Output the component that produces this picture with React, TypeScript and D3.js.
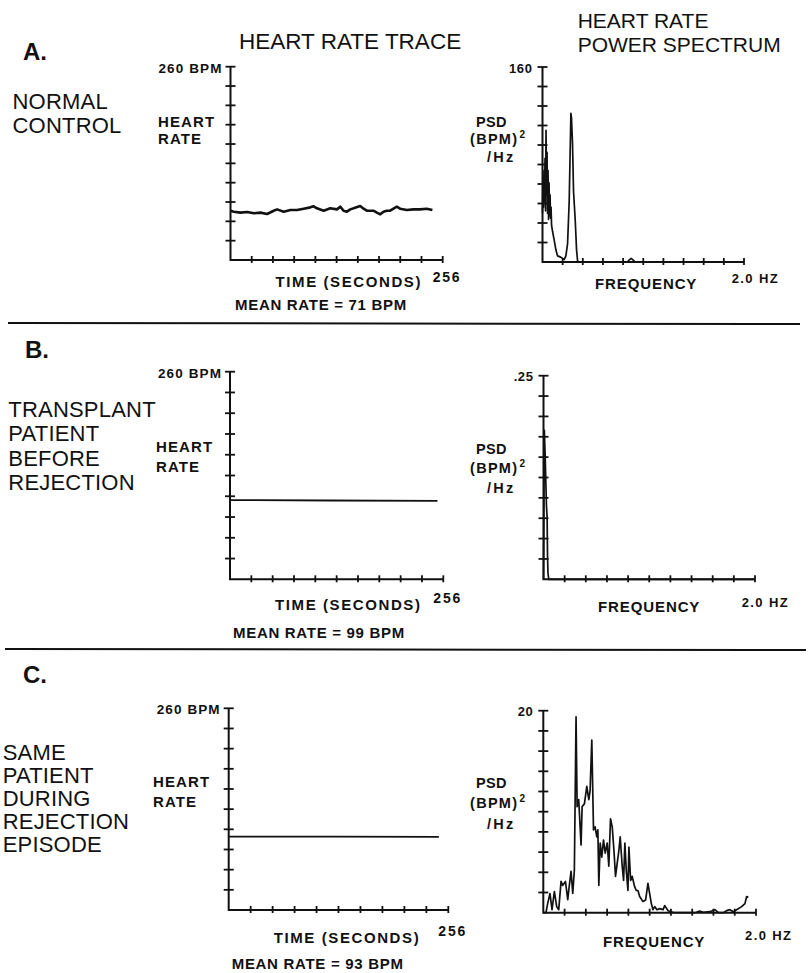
import React, { useEffect, useRef } from "react";
import * as d3 from "d3";

// ---- heart rate traces (time in seconds, BPM) ----
const traceATime = [0, 4, 12, 20.1, 28.1, 36.1, 44.1, 52.2, 56.2, 64.2, 72.2, 80.3, 88.3, 96.3, 100.3, 104.3, 112.4, 120.4, 128.4, 132.4, 136.4, 140.4, 144.5, 148.5, 156.5, 160.5, 164.5, 172.5, 176.6, 180.6, 184.6, 188.6, 192.6, 200.6, 204.6, 212.7, 220.7, 228.7, 236.7, 243.6];
const traceABpm = [66.3, 65.0, 63.7, 64.6, 62.8, 63.7, 61.9, 66.3, 68.1, 65.0, 67.2, 67.2, 69.0, 70.8, 72.2, 69.5, 66.3, 69.5, 68.1, 71.7, 66.3, 65.0, 68.1, 69.5, 72.6, 69.0, 66.3, 66.3, 63.7, 61.4, 65.0, 66.3, 66.3, 71.7, 69.0, 67.2, 68.1, 68.1, 69.0, 67.2];

const traceBTime = [0, 120, 249];
const traceBBpm = [99.2, 98.7, 98.2];

const traceCTime = [0, 120, 245];
const traceCBpm = [94.5, 94.5, 94.3];

// ---- power spectra (Hz, (BPM)^2/Hz) ----
const specAFreq = [0, 0.005, 0.01, 0.015, 0.02, 0.025, 0.03, 0.035, 0.04, 0.045, 0.05, 0.055, 0.06, 0.065, 0.07, 0.075, 0.08, 0.085, 0.09, 0.1, 0.116, 0.133, 0.149, 0.18, 0.215, 0.232, 0.249, 0.265, 0.282, 0.288, 0.298, 0.308, 0.325, 0.338, 0.348, 0.36, 0.6, 0.84, 0.865, 0.88, 0.895, 0.92, 1.2, 1.6, 1.98];
const specAPsd = [40, 70, 45, 75, 50, 85, 42, 108, 55, 90, 40, 75, 35, 65, 38, 55, 36, 45, 30, 25, 18, 10, 5, 4, 2, 5, 15, 50, 122, 118, 97, 58, 34, 10, 1, 0, 0, 0, 2, 3, 2, 0, 0, 0, 0];

const specBFreq = [0, 0.008, 0.016, 0.022, 0.028, 0.034, 0.038, 0.042, 0.05, 1.0, 2.0];
const specBPsd = [0, 0.183, 0.15, 0.12, 0.09, 0.077, 0.03, 0.008, 0, 0, 0];

const specCFreq = [0, 0.025, 0.041, 0.063, 0.082, 0.104, 0.126, 0.145, 0.167, 0.182, 0.208, 0.23, 0.239, 0.261, 0.277, 0.292, 0.308, 0.318, 0.333, 0.355, 0.365, 0.387, 0.409, 0.428, 0.44, 0.456, 0.472, 0.487, 0.503, 0.513, 0.522, 0.535, 0.55, 0.566, 0.582, 0.601, 0.616, 0.632, 0.648, 0.664, 0.679, 0.695, 0.711, 0.723, 0.742, 0.755, 0.767, 0.78, 0.796, 0.805, 0.821, 0.836, 0.858, 0.874, 0.89, 0.906, 0.937, 0.962, 0.984, 1.0, 1.016, 1.031, 1.047, 1.069, 1.094, 1.126, 1.142, 1.173, 1.22, 1.346, 1.44, 1.47, 1.503, 1.566, 1.613, 1.645, 1.692, 1.723, 1.755, 1.786, 1.818, 1.865, 1.896, 1.912, 1.928];
const specCPsd = [0, 0, 0.9, 1.9, 0.3, 2.1, 0.6, 0.3, 3.1, 2.7, 3.1, 1.3, 2.2, 4.1, 1.9, 4.2, 19.4, 10.5, 11.2, 6.7, 10.5, 10.8, 12.5, 11.2, 12.1, 17.1, 8.2, 8.5, 7.5, 8.2, 2.7, 6.9, 5.5, 7.2, 5.9, 6.9, 4.6, 9.3, 8.5, 6.2, 3.6, 4.9, 6.2, 7.5, 4.6, 3.2, 6.9, 4.2, 2.2, 6.5, 3.2, 3.6, 2.6, 2.2, 2.2, 1.6, 1.1, 1.25, 2.9, 1.9, 0.9, 0.3, 0.6, 0.3, 0.4, 0.3, 0.7, 0.2, 0.03, 0, 0.03, 0.17, 0.03, 0.1, 0.3, 0.03, 0, 0.2, 0.3, 0.1, 0.3, 0.6, 0.9, 1.6, 1.5];

// ---- tick labels / text ----
const hrMaxLabel = "260 BPM";
const hrMax = 260;
const timeMax = 256;
const psdMaxLabels = ["160", ".25", "20"];
const psdMax = [160, 0.25, 20];
const freqMax = 2.0;
const meanRates = ["MEAN RATE = 71 BPM", "MEAN RATE = 99 BPM", "MEAN RATE = 93 BPM"];
const rowLabels = [
  ["NORMAL", "CONTROL"],
  ["TRANSPLANT", "PATIENT", "BEFORE", "REJECTION"],
  ["SAME", "PATIENT", "DURING", "REJECTION", "EPISODE"],
];
const panelLetters = ["A.", "B.", "C."];

const FONT = "'Liberation Sans', Arial, Helvetica, sans-serif";

const rows = [
  {
    letter: [23, 60], row: [12.5, 109.3, 23.4],
    hr: { x0: 230.5, x1: 442.7, y0: 260, y1: 66.7, heart: [158, 126.7, 17.3], time: 287.3, end: 281.7, mean: [235, 310] },
    ps: { x0: 542.5, x1: 744, y0: 262, y1: 67, psd: 127.3, psdStep: 17, freq: [595, 289.3], hz: [731.7, 283.3] },
    trace: [traceATime, traceABpm, 2.6], spec: [specAFreq, specAPsd],
  },
  {
    letter: [25, 358.3], row: [8.3, 416.7, 24.4],
    hr: { x0: 230, x1: 443.3, y0: 579.3, y1: 371.7, heart: [156, 451.7, 20], time: 610, end: 602.7, mean: [233, 638] },
    ps: { x0: 543.5, x1: 755, y0: 579.3, y1: 375.7, psd: 454, psdStep: 19, freq: [598, 611.7], hz: [741.7, 606.7] },
    trace: [traceBTime, traceBBpm, 1.8], spec: [specBFreq, specBPsd],
  },
  {
    letter: [23, 683.3], row: [2.7, 760, 23.1],
    hr: { x0: 228.7, x1: 448.3, y0: 910, y1: 708.3, heart: [153, 786.7, 20.6], time: 942.7, end: 936, mean: [231.7, 968.5] },
    ps: { x0: 543.3, x1: 756, y0: 912.7, y1: 710.7, psd: 788, psdStep: 20, freq: [603, 946.7], hz: [745, 940] },
    trace: [traceCTime, traceCBpm, 1.8], spec: [specCFreq, specCPsd],
  },
];

const App: React.FC = () => {
  const svgRef = useRef<SVGSVGElement | null>(null);

  useEffect(() => {
    const svg = d3.select(svgRef.current);
    svg.selectAll("*").remove();
    svg
      .attr("width", 808)
      .attr("height", 973)
      .style("position", "absolute")
      .style("left", 0)
      .style("top", 0)
      .style("background", "#fff")
      .style("font-family", FONT);

    const text = (x: number, y: number, s: string, size: number, bold = true, spacing = 0, anchor = "start") =>
      svg
        .append("text")
        .attr("x", x)
        .attr("y", y)
        .attr("font-size", size)
        .attr("font-weight", bold ? "bold" : "normal")
        .attr("text-anchor", anchor)
        .style("letter-spacing", `${spacing}px`)
        .attr("fill", "#111")
        .text(s);

    // column titles
    text(239, 49, "HEART RATE TRACE", 22.5, false);
    text(577.7, 28.3, "HEART RATE", 21, false);
    text(577.7, 51.7, "POWER SPECTRUM", 21, false);

    // separators between rows
    svg.append("line").attr("x1", 8).attr("y1", 323).attr("x2", 800).attr("y2", 324).attr("stroke", "#111").attr("stroke-width", 2);
    svg.append("line").attr("x1", 5).attr("y1", 649).attr("x2", 806).attr("y2", 650).attr("stroke", "#111").attr("stroke-width", 2);

    // draws crossing-tick axes like the hand-lettered original
    const drawAxes = (
      x: d3.ScaleLinear<number, number>,
      y: d3.ScaleLinear<number, number>,
      xMax: number,
      yMax: number
    ) => {
      const [x0, x1] = x.range();
      const [y0, y1] = y.range();
      const g = svg.append("g").attr("stroke", "#111").attr("fill", "none");
      g.append("path").attr("d", `M${x0},${y1}V${y0}H${x1}`).attr("stroke-width", 2);
      const yTicks = d3.range(1, 11).map((i) => (yMax * i) / 10);
      g.selectAll(".yt")
        .data(yTicks)
        .enter()
        .append("line")
        .attr("x1", x0 - 5)
        .attr("x2", x0 + 5)
        .attr("y1", (d) => y(d))
        .attr("y2", (d) => y(d))
        .attr("stroke-width", 1.8);
      const xTicks = d3.range(1, 11).map((i) => (xMax * i) / 10);
      g.selectAll(".xt")
        .data(xTicks)
        .enter()
        .append("line")
        .attr("x1", (d) => x(d))
        .attr("x2", (d) => x(d))
        .attr("y1", y0 - 4)
        .attr("y2", y0 + 3)
        .attr("stroke-width", 1.8);
    };

    rows.forEach((r, i) => {
      text(r.letter[0], r.letter[1], panelLetters[i], 24, true);
      rowLabels[i].forEach((s, j) => text(r.row[0], r.row[1] + j * r.row[2], s, 22, false, 0.2));

      // heart rate trace
      const hx = d3.scaleLinear().domain([0, timeMax]).range([r.hr.x0, r.hr.x1]);
      const hy = d3.scaleLinear().domain([0, hrMax]).range([r.hr.y0, r.hr.y1]);
      drawAxes(hx, hy, timeMax, hrMax);
      const [tt, tv, tw] = r.trace as [number[], number[], number];
      const hrLine = d3
        .line<number>()
        .x((d) => hx(tt[d]))
        .y((d) => hy(tv[d]));
      svg
        .append("path")
        .attr("d", hrLine(d3.range(tt.length)))
        .attr("fill", "none")
        .attr("stroke", "#111")
        .attr("stroke-width", tw)
        .attr("stroke-linejoin", "round");

      text(r.hr.x0 - 8, r.hr.y1 + 6, hrMaxLabel, 13.5, true, 1.1, "end");
      text(r.hr.heart[0], r.hr.heart[1], "HEART", 15, true, 1.1);
      text(r.hr.heart[0], r.hr.heart[1] + r.hr.heart[2], "RATE", 15, true, 1.1);
      text(r.hr.x0 + 45, r.hr.time, "TIME (SECONDS)", 15, true, 1.6);
      text(r.hr.x1 - 10, r.hr.end, String(timeMax), 14, true, 1.8);
      text(r.hr.mean[0], r.hr.mean[1], meanRates[i], 15, true, 0.7);

      // power spectrum
      const px = d3.scaleLinear().domain([0, freqMax]).range([r.ps.x0, r.ps.x1]);
      const py = d3.scaleLinear().domain([0, psdMax[i]]).range([r.ps.y0, r.ps.y1]);
      drawAxes(px, py, freqMax, psdMax[i]);
      const [sf, sv] = r.spec as [number[], number[]];
      const psLine = d3
        .line<number>()
        .x((d) => px(sf[d]))
        .y((d) => py(sv[d]));
      svg
        .append("path")
        .attr("d", psLine(d3.range(sf.length)))
        .attr("fill", "none")
        .attr("stroke", "#111")
        .attr("stroke-width", 1.7)
        .attr("stroke-linejoin", "round");

      text(r.ps.x0 - 10, r.ps.y1 + 5.5, psdMaxLabels[i], 13, true, 0.6, "end");
      text(476, r.ps.psd, "PSD", 14.5, true, 0.3);
      const bpm = text(470, r.ps.psd + r.ps.psdStep, "(BPM)", 14.5, true, 1.3);
      bpm.append("tspan").attr("dy", -6).attr("font-size", 10).attr("dx", 1).text("2");
      text(487, r.ps.psd + 2 * r.ps.psdStep + 1, "/Hz", 14.5, true, 2.2);
      text(r.ps.freq[0], r.ps.freq[1], "FREQUENCY", 15, true, 0.9);
      text(r.ps.hz[0], r.ps.hz[1], "2.0 HZ", 13, true, 1.4);
    });
  }, []);

  return <svg ref={svgRef}></svg>;
};

export default App;
